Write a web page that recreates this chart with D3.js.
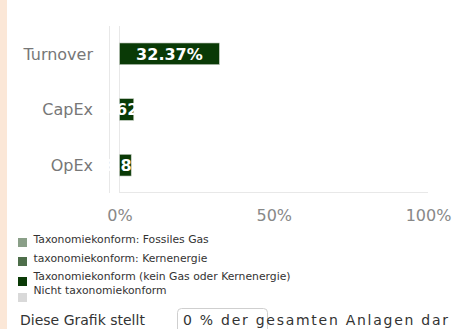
<!DOCTYPE html>
<html>
<head>
<meta charset="utf-8">
<script src="https://cdn.jsdelivr.net/npm/d3@7"></script>
<style>
  html, body { margin: 0; padding: 0; background: #fff; }
  svg { display: block; }
</style>
</head>
<body>
<svg id="chart" width="459" height="329"></svg>
<script>
// Share of taxonomy-aligned activities per KPI (percent)
const categories = ["Turnover", "CapEx", "OpEx"];
const fossilGas = [0, 0, 0];
const nuclear = [0, 0, 0];
const alignedOther = [32.37, 4.62, 3.8];
const valueLabels = ["32.37%", "4.62%", "3.8%"];
const axisTicks = [0, 50, 100];
const legendLabels = [
  "Taxonomiekonform: Fossiles Gas",
  "taxonomiekonform: Kernenergie",
  "Taxonomiekonform (kein Gas oder Kernenergie)",
  "Nicht taxonomiekonform"
];
const legendColors = ["#8a9f88", "#4e6e4a", "#0a3a06", "#d9d9d9"];
const footerPrefix = "Diese Grafik stellt";
const footerValue = "0 % der gesamten Anlagen dar";

const svg = d3.select("#chart");
const font = "'DejaVu Sans', Verdana, sans-serif";

// left accent strip
svg.append("rect").attr("x", 0).attr("y", 0).attr("width", 7).attr("height", 329)
  .attr("fill", "#fbe7d7");

const x = d3.scaleLinear().domain([0, 100]).range([119.5, 428]);
const y = d3.scaleBand().domain(categories).range([26, 193])
  .paddingInner(0.61).paddingOuter(0.305);

// frame lines
svg.append("line").attr("x1", 109.5).attr("x2", 109.5).attr("y1", 26).attr("y2", 193)
  .attr("stroke", "#e8e8e8").attr("stroke-width", 1);
svg.append("line").attr("x1", 119.5).attr("x2", 119.5).attr("y1", 26).attr("y2", 193)
  .attr("stroke", "#e8e8e8").attr("stroke-width", 1);
svg.append("line").attr("x1", 119.5).attr("x2", 428).attr("y1", 192.5).attr("y2", 192.5)
  .attr("stroke", "#e8e8e8").attr("stroke-width", 1);

// stacked series
const rows = categories.map((c, i) => ({ cat: c, gas: fossilGas[i], nuc: nuclear[i], other: alignedOther[i] }));
const stack = d3.stack().keys(["gas", "nuc", "other"]);
const series = stack(rows);
const seriesColors = { gas: legendColors[0], nuc: legendColors[1], other: legendColors[2] };

svg.append("g").selectAll("g").data(series).join("g")
  .attr("fill", d => seriesColors[d.key])
  .selectAll("rect").data(d => d).join("rect")
  .attr("x", d => x(d[0]))
  .attr("y", d => y(d.data.cat))
  .attr("width", d => Math.max(0, x(d[1]) - x(d[0])))
  .attr("height", y.bandwidth())
  .attr("stroke", d => (d[1] - d[0]) > 0 ? "#c8d0c6" : "none")
  .attr("stroke-width", 0.6);

// value labels centred on each bar
svg.append("g").selectAll("text").data(rows).join("text")
  .attr("x", (d, i) => (x(0) + x(fossilGas[i] + nuclear[i] + alignedOther[i])) / 2)
  .attr("y", d => y(d.cat) + y.bandwidth() / 2 + 5.8)
  .attr("text-anchor", "middle")
  .attr("font-family", font).attr("font-weight", "bold").attr("font-size", 16)
  .attr("fill", "#ffffff")
  .text((d, i) => valueLabels[i]);

// category labels
svg.append("g").selectAll("text").data(categories).join("text")
  .attr("x", 93)
  .attr("y", d => y(d) + y.bandwidth() / 2 + 5.8)
  .attr("text-anchor", "end")
  .attr("font-family", font).attr("font-size", 16)
  .attr("fill", "#777")
  .text(d => d);

// x-axis tick labels
const xAxis = d3.axisBottom(x).tickValues(axisTicks).tickFormat(d => d + "%").tickSize(0).tickPadding(0);
const gx = svg.append("g").attr("transform", "translate(0,210)").call(xAxis);
gx.select(".domain").remove();
gx.selectAll("text").attr("font-family", font).attr("font-size", 16).attr("fill", "#888")
  .attr("dy", "0.71em");

// legend
const legendTextY = [243.3, 261.7, 280, 294.3];
const legendBoxY = [238, 257, 277, 293];
const lg = svg.append("g");
legendLabels.forEach((label, i) => {
  lg.append("rect").attr("x", 18).attr("y", legendBoxY[i]).attr("width", 9).attr("height", 9)
    .attr("fill", legendColors[i]);
  lg.append("text").attr("x", 33.5).attr("y", legendTextY[i])
    .attr("font-family", font).attr("font-size", 10.8).attr("fill", "#333")
    .text(label);
});

// footer
svg.append("text").attr("x", 20).attr("y", 325)
  .attr("font-family", font).attr("font-size", 14).attr("fill", "#333")
  .text(footerPrefix);
svg.append("rect").attr("x", 177.5).attr("y", 308.5).attr("width", 90).attr("height", 30)
  .attr("rx", 4).attr("fill", "none").attr("stroke", "#cfcfcf");
svg.append("text").attr("x", 183).attr("y", 325)
  .attr("font-family", font).attr("font-size", 14).attr("fill", "#333")
  .attr("textLength", 265).attr("lengthAdjust", "spacing")
  .text(footerValue);
</script>
</body>
</html>
